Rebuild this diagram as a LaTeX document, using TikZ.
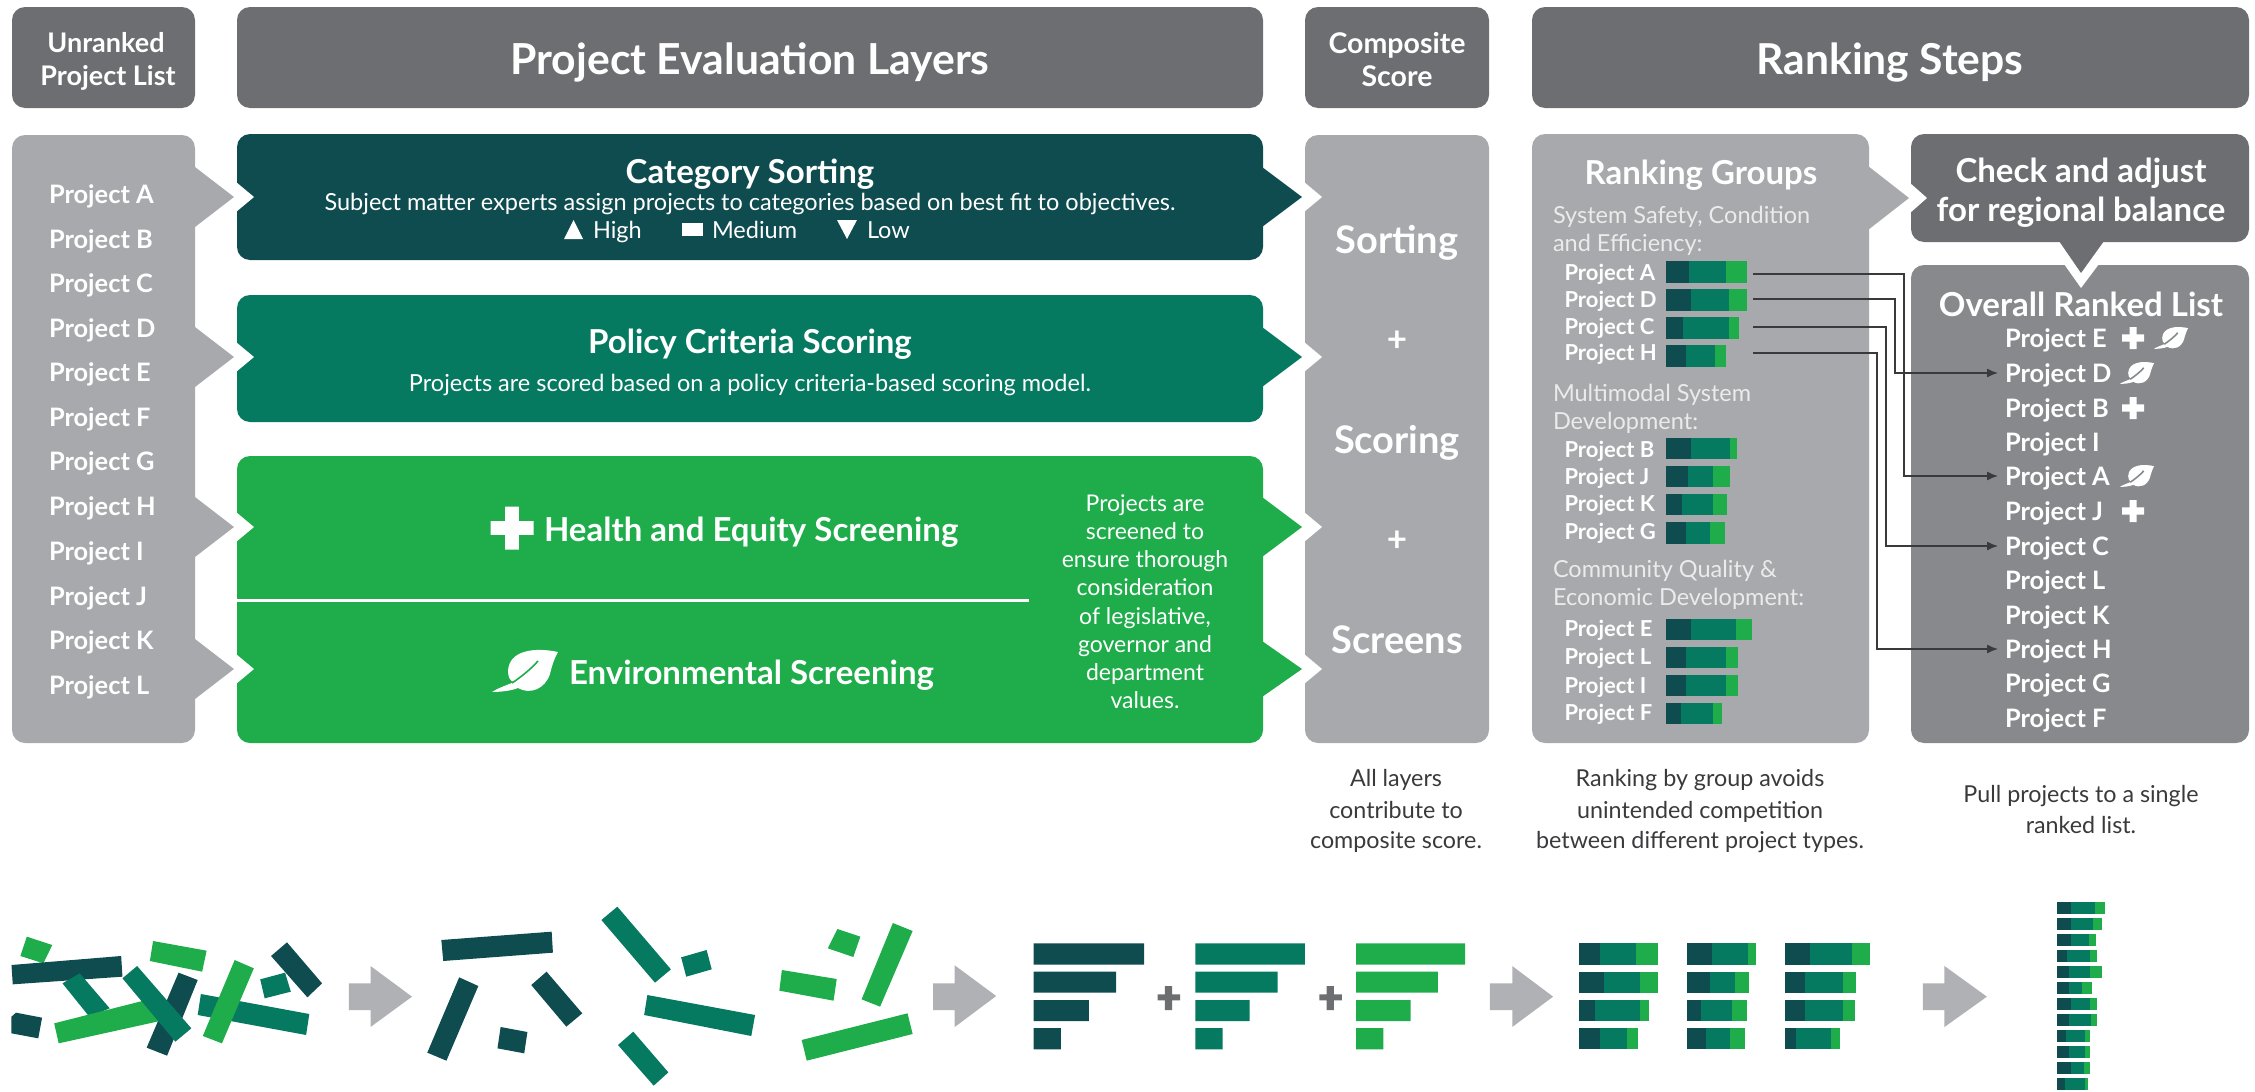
\documentclass[tikz,border=0pt]{standalone}
\usepackage{fontspec}
\setmainfont{Lato}
\usetikzlibrary{arrows.meta,calc}
\definecolor{cdark}{HTML}{0E4C50}
\definecolor{cmid}{HTML}{057A60}
\definecolor{clight}{HTML}{1EAD4A}
\definecolor{chead}{HTML}{6D6E71}
\definecolor{cgray}{HTML}{A7A9AC}
\definecolor{cover}{HTML}{87898C}
\definecolor{cink}{HTML}{3A3A3C}
\newcommand{\fsz}[1]{\fontsize{#1}{#1}\selectfont}
\tikzset{
  every node/.style={inner sep=0pt,outer sep=0pt,text=white},
  hb/.style={font=\fsz{#1}\bfseries,text height=#1*0.72pt,text depth=0pt},
  rg/.style={font=\fsz{#1},text height=#1*0.72pt,text depth=0pt},
  captxt/.style={font=\fsz{23.3},text=cink,text height=16.5pt,text depth=0pt},
  proj/.style={hb=25.4,anchor=west},
  sproj/.style={hb=22,anchor=west},
  grouptxt/.style={rg=23.5,anchor=west,text=white!92!black},
  panel/.style={rounded corners=13pt},
  conn/.style={draw=cink,line width=1.4pt,-{Latex[length=11pt,width=9pt]},shorten >=7pt},
}
% arrow: base x, tip x, centre y, half height
\newcommand{\arw}[5]{\fill[#1] (#2,#4-#5) -- (#3,#4) -- (#2,#4+#5) -- cycle;}
\newcommand{\notch}[2]{\fill[white] (#1-1,#2-15) -- (#1+17,#2) -- (#1-1,#2+15) -- cycle;}
\newcommand{\plusmark}[3]{\fill[white] (#1-#3/2,#2-#3*0.16) rectangle (#1+#3/2,#2+#3*0.16) (#1-#3*0.16,#2-#3/2) rectangle (#1+#3*0.16,#2+#3/2);}
\newcommand{\leafmark}[4]{\begin{scope}[shift={(#1pt,-#2pt)},scale=#3]
 \fill[white] (33,-19) .. controls (10,-24) and (-16,-21) .. (-17,0) .. controls (-17,6) and (-15,10) .. (-11,11) .. controls (-20,15) and (-27,17) .. (-33,21) .. controls (-26,21) and (-14,20) .. (-7,17) .. controls (5,24) and (20,18) .. (25,3) .. controls (27,-6) and (30,-14) .. (33,-19) -- cycle;
 \draw[#4,line width=1.6pt] (-13,12) .. controls (-4,6) and (6,-2) .. (13,-10);
 \end{scope}}
\newcommand{\stk}[6]{\fill[cdark] (#1,#5) rectangle (#2,#6); \fill[cmid] (#2,#5) rectangle (#3,#6); \fill[clight] (#3,#5) rectangle (#4,#6);}
% small bar in zoom-x units
\newcommand{\sbar}[5]{\begin{scope}[x=0.46882pt,shift={(1520pt,0pt)}]\stk{312}{#1}{#2}{#3}{#4}{#5}\end{scope}}
\begin{document}
\begin{tikzpicture}[x=1pt,y=-1pt]
\useasboundingbox (0,0) rectangle (2255,1092);
% headers
\fill[chead,panel] (12,7) rectangle (195,108);
\fill[chead,panel] (237,7) rectangle (1263,108);
\fill[chead,panel] (1305,7) rectangle (1489,108);
\fill[chead,panel] (1532,7) rectangle (2249,108);
\node[hb=27] (h1a) at (106,43) {Unranked};
\node[hb=27] (h1b) at (108,76) {Project List};
\node[hb=42.7] (h2) at (750,59) {Project Evaluation Layers};
\node[hb=28.5] (h3a) at (1397,43) {Composite};
\node[hb=28.5] (h3b) at (1397,76) {Score};
\node[hb=42.6] (h4) at (1890,59) {Ranking Steps};
% left list
\fill[cgray,panel] (12,135) rectangle (195,743);
\arw{cgray}{195}{234}{197}{30}
\arw{cgray}{195}{234}{357}{30}
\arw{cgray}{195}{234}{527}{30}
\arw{cgray}{195}{234}{669}{30}
\foreach \t/\y in {A/194,B/239,C/283,D/328,E/372,F/417,G/461,H/506,I/551,J/596,K/640,L/685}
  \node[proj] (l\t) at (49,\y) {Project \t};
% layer boxes
\fill[cgray,panel] (1305,135) rectangle (1489,743);
\notch{1305}{197}\notch{1305}{357}\notch{1305}{527}\notch{1305}{669}
\fill[cdark,panel] (237,134) rectangle (1263,260);
\arw{cdark}{1262}{1302}{197}{30}\notch{237}{197}
\fill[cmid,panel] (237,295) rectangle (1263,422);
\arw{cmid}{1262}{1302}{357}{30}\notch{237}{357}
\fill[clight,panel] (237,456) rectangle (1263,743);
\arw{clight}{1262}{1302}{527}{30}\arw{clight}{1262}{1302}{669}{28}\notch{237}{527}\notch{237}{669}
\draw[white,line width=3pt] (237,600) -- (1029,600);
\node[hb=33] (cs) at (750,172) {Category Sorting};
\node[rg=23.5] (css) at (750,202) {Subject matter experts assign projects to categories based on best fit to objectives.};
\fill[white] (564,239) -- (573.5,220) -- (583,239) -- cycle;
\node[rg=23.5,anchor=west] (hi) at (593,230) {High};
\fill[white] (682,223) rectangle (703,236);
\node[rg=23.5,anchor=west] (med) at (712,230) {Medium};
\fill[white] (837,220) -- (857,220) -- (847,239) -- cycle;
\node[rg=23.5,anchor=west] (lo) at (867,230) {Low};
\node[hb=33] (pc) at (750,342) {Policy Criteria Scoring};
\node[rg=23.5] (pcs) at (750,383) {Projects are scored based on a policy criteria-based scoring model.};
\plusmark{512}{528}{43}
\node[hb=33,anchor=west] (he) at (544,530) {Health and Equity Screening};
\leafmark{525}{671}{1}{clight}
\node[hb=33,anchor=west] (en) at (569,673) {Environmental Screening};
\foreach \t/\y [count=\i] in {Projects are/503,screened to/531,ensure thorough/559,consideration/587,{of legislative,}/616,governor and/644,department/672,values./700}
  \node[rg=23] (sc\i) at (1145,\y) {\t};
% composite
\node[hb=38] (c1) at (1397,240) {Sorting};
\node[hb=35] (c2) at (1397,339) {+};
\node[hb=38] (c3) at (1397,440) {Scoring};
\node[hb=35] (c4) at (1397,539) {+};
\node[hb=38] (c5) at (1397,640) {Screens};
% ranking groups
\fill[cgray,panel] (1532,134) rectangle (1869,743);
\arw{cgray}{1868}{1909}{198}{32}
\fill[chead,panel] (1911,134) rectangle (2249,242);
\fill[white] (1910,183) -- (1927,198) -- (1910,213) -- cycle;
\fill[cover,panel] (1911,265) rectangle (2249,743);
\fill[white] (2064,264) -- (2081,288) -- (2099,264) -- cycle;
\fill[chead] (2059,241) -- (2081,273) -- (2104,241) -- cycle;
\node[hb=33] (rg) at (1701,173) {Ranking Groups};
\node[grouptxt] (g1a) at (1553,215) {System Safety, Condition};
\node[grouptxt] (g1b) at (1553,243) {and Efficiency:};
\node[grouptxt] (g2a) at (1553,393) {Multimodal System};
\node[grouptxt] (g2b) at (1553,421) {Development:};
\node[grouptxt] (g3a) at (1553,569) {Community Quality \&};
\node[grouptxt] (g3b) at (1553,597) {Economic Development:};
\foreach \t/\y in {A/273,D/300,C/327,H/353,B/450,J/477,K/504,G/532,E/629,L/657,I/686,F/713}
  \node[sproj] (s\t) at (1564.5,\y) {Project \t};
\sbar{360}{440}{485}{261}{283}
\sbar{365}{445}{485}{289}{311}
\sbar{348}{445}{467}{317}{339}
\sbar{355}{415}{440}{345}{367}
\sbar{365}{448}{462}{438}{459}
\sbar{358}{412}{447}{466}{487}
\sbar{345}{412}{442}{494}{515}
\sbar{355}{405}{438}{522}{544}
\sbar{365}{460}{494}{619}{640}
\sbar{355}{440}{466}{647}{668}
\sbar{355}{440}{466}{675}{696}
\sbar{343}{412}{431}{703}{724}
% check and list
\node[hb=33] (ck1) at (2081,171) {Check and adjust};
\node[hb=33] (ck2) at (2081,210) {for regional balance};
\node[hb=33] (ol) at (2081,305) {Overall Ranked List};
\foreach \t/\y in {E/338,D/373,B/408,I/442,A/476,J/511,C/546,L/580,K/615,H/649,G/683,F/718}
  \node[proj] (r\t) at (2005,\y) {Project \t};
\plusmark{2133}{338}{22}\leafmark{2171}{338}{0.52}{cover}
\leafmark{2137}{373}{0.52}{cover}
\plusmark{2133}{408}{22}
\leafmark{2137}{476}{0.52}{cover}
\plusmark{2133}{511}{22}
% connectors
\coordinate (oA) at (1753,274);\coordinate (oD) at (1753,299);\coordinate (oC) at (1753,327);\coordinate (oH) at (1753,353);
\coordinate (vA) at (1904,400);\coordinate (vD) at (1895,340);\coordinate (vC) at (1886,400);\coordinate (vH) at (1877,400);
\draw[conn] (oA) -| (vA) |- (rA.west);
\draw[conn] (oD) -| (vD) |- (rD.west);
\draw[conn] (oC) -| (vC) |- (rC.west);
\draw[conn] (oH) -| (vH) |- (rH.west);
% captions
\node[captxt] (a1) at (1396,778) {All layers};
\node[captxt] (a2) at (1396,810) {contribute to};
\node[captxt] (a3) at (1396,840) {composite score.};
\node[captxt] (b1) at (1700,778) {Ranking by group avoids};
\node[captxt] (b2) at (1700,810) {unintended competition};
\node[captxt] (b3) at (1700,840) {between different project types.};
\node[captxt] (d1) at (2081,794) {Pull projects to a single};
\node[captxt] (d2) at (2081,825) {ranked list.};
% bottom left graphics
\begin{scope}[x=0.63776pt,y=-0.33333pt,shift={(0pt,-880pt)}]
\fill[clight] (42,170)--(82,195)--(68,250)--(32,228)--cycle;
\fill[cdark] (18,255)--(190,228)--(192,290)--(20,313)--cycle;
\fill[clight] (240,183)--(324,212)--(317,275)--(235,243)--cycle;
\fill[cmid] (98,310)--(125,280)--(172,385)--(140,410)--cycle;
\fill[cdark] (280,278)--(310,300)--(262,527)--(230,503)--cycle;
\fill[clight] (85,430)--(250,350)--(258,420)--(92,490)--cycle;
\fill[cmid] (192,295)--(215,258)--(300,445)--(275,485)--cycle;
\fill[cdark] (450,187)--(505,310)--(482,352)--(425,228)--cycle;
\fill[cmid] (408,298)--(447,278)--(456,335)--(415,355)--cycle;
\fill[cmid] (315,342)--(485,402)--(480,465)--(310,405)--cycle;
\fill[clight] (368,240)--(398,265)--(348,490)--(318,468)--cycle;
\fill[cdark] (18,410)--(25,398)--(66,413)--(60,475)--(18,460)--cycle;
\fill[cdark] (692,180)--(865,155)--(867,218)--(695,243)--cycle;
\fill[cdark] (720,292)--(750,318)--(700,542)--(670,518)--cycle;
\fill[cdark] (857,275)--(913,400)--(888,440)--(833,315)--cycle;
\fill[cdark] (785,441)--(827,456)--(822,520)--(780,505)--cycle;
\fill[cmid] (968,80)--(1052,268)--(1027,308)--(943,120)--cycle;
\fill[cmid] (1068,232)--(1108,210)--(1116,268)--(1076,290)--cycle;
\fill[cmid] (1015,345)--(1184,405)--(1178,468)--(1010,405)--cycle;
\fill[cmid] (993,455)--(1048,577)--(1025,617)--(969,495)--cycle;
\fill[clight] (1313,147)--(1349,170)--(1338,231)--(1298,205)--cycle;
\fill[clight] (1400,129)--(1431,153)--(1380,380)--(1351,358)--cycle;
\fill[clight] (1226,270)--(1312,297)--(1307,362)--(1222,332)--cycle;
\fill[clight] (1257,480)--(1423,400)--(1431,462)--(1265,542)--cycle;
\fill[cgray!90!white] (547,310)--(581,310)--(581,258)--(646,350)--(581,441)--(581,390)--(547,390)--cycle;
\fill[cgray!90!white] (1463,310)--(1497,310)--(1497,256)--(1562,348)--(1497,441)--(1497,390)--(1463,390)--cycle;
\end{scope}
% bottom right graphics
\begin{scope}[x=0.80038pt,y=-0.33333pt,shift={(1000pt,-880pt)}]
\fill[cdark] (42,190) rectangle (180,254) (42,275) rectangle (145,338) (42,360) rectangle (111,423) (42,444) rectangle (76,508);
\fill[cmid] (244,190) rectangle (381,254) (244,275) rectangle (347,338) (244,360) rectangle (312,423) (244,444) rectangle (278,508);
\fill[clight] (445,190) rectangle (581,254) (445,275) rectangle (547,338) (445,360) rectangle (513,423) (445,444) rectangle (479,508);
\fill[chead] (197,343) rectangle (225,361) (206,318) rectangle (215,390);
\fill[chead] (399,343) rectangle (427,361) (408,318) rectangle (417,390);
\fill[cgray!90!white] (612,310)--(640,310)--(640,258)--(691,350)--(640,441)--(640,390)--(612,390)--cycle;
\fill[cgray!90!white] (1153,310)--(1180,310)--(1180,258)--(1233,350)--(1180,441)--(1180,390)--(1153,390)--cycle;
\stk{723}{750}{795}{822}{190}{254}\stk{723}{755}{800}{822}{275}{338}\stk{723}{743}{800}{811}{360}{423}\stk{723}{750}{783}{797}{444}{508}
\stk{858}{890}{935}{945}{190}{254}\stk{858}{887}{918}{936}{275}{338}\stk{858}{876}{915}{933}{360}{423}\stk{858}{882}{912}{931}{444}{508}
\stk{981}{1012}{1065}{1087}{190}{254}\stk{981}{1006}{1053}{1069}{275}{338}\stk{981}{1006}{1053}{1068}{360}{423}\stk{981}{995}{1038}{1049}{444}{508}
\foreach \a/\b/\c/\y in {1338/1368/1381/67,1338/1365/1377/115,1338/1360/1369/163,1333/1362/1371/211,1336/1362/1377/259,1336/1352/1364/307,1338/1362/1370/355,1336/1363/1371/403,1332/1355/1362/451,1336/1356/1362/499,1338/1354/1362/547,1331/1355/1359/595}
  {\pgfmathsetmacro{\yy}{\y+36}\stk{1320}{\a}{\b}{\c}{\y}{\yy}}
\end{scope}
\end{tikzpicture}
\end{document}
